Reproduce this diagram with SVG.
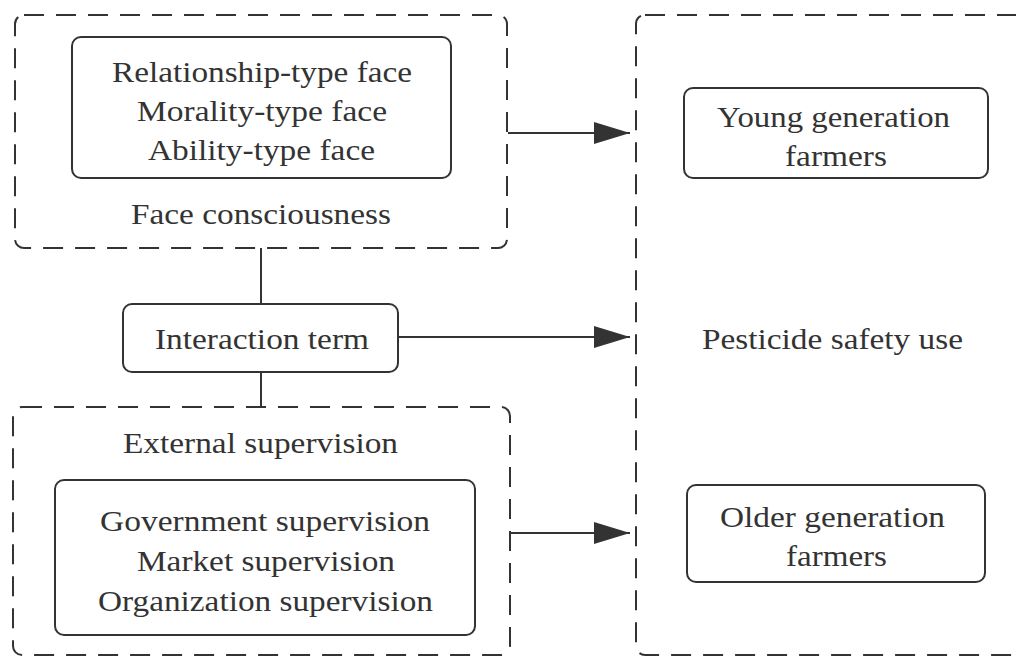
<svg xmlns="http://www.w3.org/2000/svg" width="1016" height="657" viewBox="0 0 1016 657">
<defs>
<style>
.dash{fill:none;stroke:#333;stroke-width:2;stroke-dasharray:20 12}
.box{fill:#fff;stroke:#333;stroke-width:2}
.t{font-family:"Liberation Serif","Times New Roman",serif;font-size:29px;fill:#333;text-anchor:middle}
.ln{stroke:#333;stroke-width:2;fill:none}
</style>
<marker id="ah" viewBox="0 0 36 22" refX="36" refY="11" markerWidth="36" markerHeight="22" markerUnits="userSpaceOnUse" orient="auto">
<path d="M0,0 L36,11 L0,22 Z" fill="#333"/>
</marker>
</defs>
<rect width="1016" height="657" fill="#fff"/>
<g id="face-group">
<rect class="dash" x="15" y="15" width="492" height="233" rx="9"/>
<rect class="box" x="72" y="37" width="379" height="141" rx="9"/>
<text class="t" x="262" y="82" textLength="300" lengthAdjust="spacingAndGlyphs">Relationship-type face</text>
<text class="t" x="262" y="121" textLength="250" lengthAdjust="spacingAndGlyphs">Morality-type face</text>
<text class="t" x="261.5" y="160" textLength="227" lengthAdjust="spacingAndGlyphs">Ability-type face</text>
<text class="t" x="261" y="224" textLength="260" lengthAdjust="spacingAndGlyphs">Face consciousness</text>
</g>
<g id="external-group">
<rect class="dash" x="13" y="407" width="497" height="248" rx="9"/>
<text class="t" x="260.5" y="453" textLength="275" lengthAdjust="spacingAndGlyphs">External supervision</text>
<rect class="box" x="55" y="480" width="420" height="155" rx="9"/>
<text class="t" x="265" y="531" textLength="330" lengthAdjust="spacingAndGlyphs">Government supervision</text>
<text class="t" x="266" y="571" textLength="258" lengthAdjust="spacingAndGlyphs">Market supervision</text>
<text class="t" x="265.5" y="611" textLength="335" lengthAdjust="spacingAndGlyphs">Organization supervision</text>
</g>
<g id="connectors">
<line class="ln" x1="261" y1="248" x2="261" y2="305"/>
<line class="ln" x1="261" y1="372" x2="261" y2="407"/>
<line class="ln" x1="508" y1="133" x2="630" y2="133" marker-end="url(#ah)"/>
<line class="ln" x1="398" y1="337" x2="630" y2="337" marker-end="url(#ah)"/>
<line class="ln" x1="510" y1="533" x2="630" y2="533" marker-end="url(#ah)"/>
</g>
<g id="interaction">
<rect class="box" x="123" y="304" width="275" height="68" rx="9"/>
<text class="t" x="262" y="349" textLength="214" lengthAdjust="spacingAndGlyphs">Interaction term</text>
</g>
<g id="pesticide-group">
<rect class="dash" x="636" y="15" width="420" height="640" rx="9"/>
<text class="t" x="832.5" y="349" textLength="261" lengthAdjust="spacingAndGlyphs">Pesticide safety use</text>
</g>
<g id="young">
<rect class="box" x="684" y="88" width="304" height="90" rx="9"/>
<text class="t" x="833.5" y="127" textLength="233" lengthAdjust="spacingAndGlyphs">Young generation</text>
<text class="t" x="836" y="166" textLength="102" lengthAdjust="spacingAndGlyphs">farmers</text>
</g>
<g id="older">
<rect class="box" x="687" y="485" width="298" height="97" rx="9"/>
<text class="t" x="832.5" y="527" textLength="225" lengthAdjust="spacingAndGlyphs">Older generation</text>
<text class="t" x="836.5" y="566" textLength="101" lengthAdjust="spacingAndGlyphs">farmers</text>
</g>
</svg>
